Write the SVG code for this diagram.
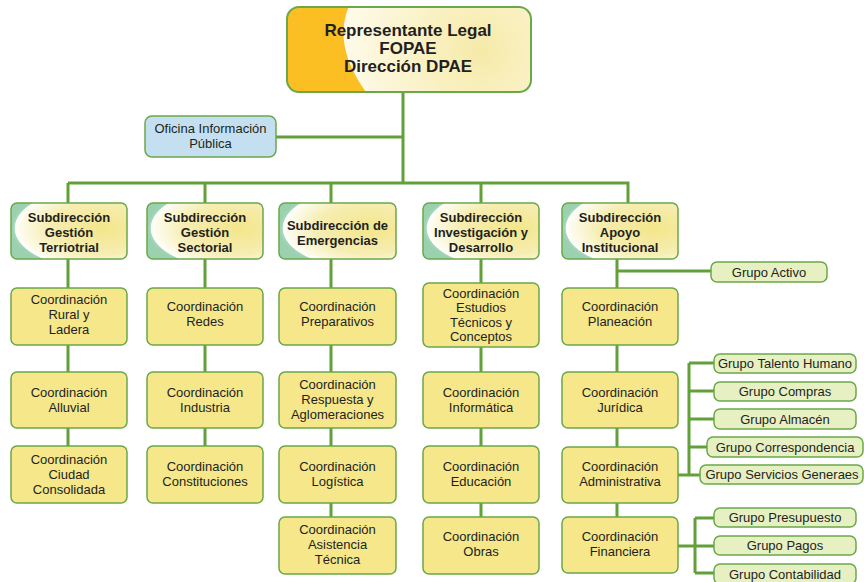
<svg xmlns="http://www.w3.org/2000/svg" width="864" height="582" viewBox="0 0 864 582">
<style>
text{font-family:"Liberation Sans",Arial,sans-serif;fill:#231f20;text-anchor:middle}
.t{font-size:17px;font-weight:bold}
.s{font-size:13px;font-weight:bold}
.c{font-size:13px}
.ln{stroke:#62a03a;stroke-width:3;fill:none}
.coord{fill:#f5e78a;stroke:#6aa84a;stroke-width:1.5}
.grp{fill:#e6f0c2;stroke:#6aa84a;stroke-width:1.5}
.sub{fill:url(#subg);stroke:#6aa84a;stroke-width:1.5}
</style>
<defs>
<radialGradient id="subg" cx="0.76" cy="0.45" r="0.76" fx="0.8" fy="0.45">
<stop offset="0" stop-color="#f3e68a"/>
<stop offset="0.6" stop-color="#f6edb2"/>
<stop offset="0.9" stop-color="#fdfbec"/>
<stop offset="0.955" stop-color="#ffffff"/>
<stop offset="0.965" stop-color="#a6d8ba"/>
<stop offset="1" stop-color="#9cd1b0"/>
</radialGradient>
<radialGradient id="topg" gradientUnits="userSpaceOnUse" cx="480" cy="50" r="150">
<stop offset="0" stop-color="#f6eaa8"/>
<stop offset="0.55" stop-color="#fbf4d0"/>
<stop offset="1" stop-color="#fefcf0"/>
</radialGradient>
<clipPath id="topclip"><rect x="287" y="7" width="244" height="85" rx="12"/></clipPath>
</defs>
<g id="connectors">
<path class="ln" d="M403 92V183M276 137H403M68 183H628V203M68 183V446M205 183V446M331 183V517M481 183V517M617 259V517M617 271H711"/>
<path class="ln" d="M678 475H689M689 363V475M689 363H714M689 391H714M689 419H714M689 447H707M689 475H700"/>
<path class="ln" d="M678 546H695M695 518V573M695 518H714M695 546H714M695 573H714"/>
</g>
<g id="top"><rect x="287" y="7" width="244" height="85" rx="12" fill="url(#topg)"/>
<path clip-path="url(#topclip)" d="M280 0H352C340 22 336 55 372 100H280Z" fill="#fbbf24"/>
<rect x="287" y="7" width="244" height="85" rx="12" fill="none" stroke="#6aa84a" stroke-width="2"/>
<text class="t" x="408" y="36">Representante Legal</text><text class="t" x="408" y="54">FOPAE</text><text class="t" x="408" y="72">Dirección DPAE</text></g>
<g id="oficina"><rect x="145" y="116" width="131" height="41" rx="7" fill="#c4dff0" stroke="#6aa84a" stroke-width="1.5"/>
<text class="c" x="210.5" y="132.5">Oficina Información</text><text class="c" x="210.5" y="147.5">Pública</text></g>
<g id="sub1"><rect class="sub" x="11" y="203" width="116" height="56" rx="6"/>
<text class="s" x="69" y="221.5">Subdirección</text><text class="s" x="69" y="236.5">Gestión</text><text class="s" x="69" y="251.5">Terriotrial</text></g>
<g id="sub2"><rect class="sub" x="147" y="203" width="116" height="56" rx="6"/>
<text class="s" x="205" y="221.5">Subdirección</text><text class="s" x="205" y="236.5">Gestión</text><text class="s" x="205" y="251.5">Sectorial</text></g>
<g id="sub3"><rect class="sub" x="279" y="203" width="117" height="56" rx="6"/>
<text class="s" x="337.5" y="229.5">Subdirección de</text><text class="s" x="337.5" y="244.5">Emergencias</text></g>
<g id="sub4"><rect class="sub" x="423" y="203" width="116" height="56" rx="6"/>
<text class="s" x="481" y="221.5">Subdirección</text><text class="s" x="481" y="236.5">Investigación y</text><text class="s" x="481" y="251.5">Desarrollo</text></g>
<g id="sub5"><rect class="sub" x="562" y="203" width="116" height="56" rx="6"/>
<text class="s" x="620" y="221.5">Subdirección</text><text class="s" x="620" y="236.5">Apoyo</text><text class="s" x="620" y="251.5">Institucional</text></g>
<g id="c11"><rect class="coord" x="11" y="288" width="116" height="57" rx="6"/>
<text class="c" x="69" y="304">Coordinación</text><text class="c" x="69" y="319">Rural y</text><text class="c" x="69" y="334">Ladera</text></g>
<g id="c12"><rect class="coord" x="11" y="372" width="116" height="56" rx="6"/>
<text class="c" x="69" y="397">Coordinación</text><text class="c" x="69" y="412">Alluvial</text></g>
<g id="c13"><rect class="coord" x="11" y="446" width="116" height="57" rx="6"/>
<text class="c" x="69" y="464">Coordinación</text><text class="c" x="69" y="479">Ciudad</text><text class="c" x="69" y="494">Consolidada</text></g>
<g id="c21"><rect class="coord" x="147" y="288" width="116" height="57" rx="6"/>
<text class="c" x="205" y="311">Coordinación</text><text class="c" x="205" y="326">Redes</text></g>
<g id="c22"><rect class="coord" x="147" y="372" width="116" height="56" rx="6"/>
<text class="c" x="205" y="397">Coordinación</text><text class="c" x="205" y="412">Industria</text></g>
<g id="c23"><rect class="coord" x="147" y="446" width="116" height="57" rx="6"/>
<text class="c" x="205" y="471">Coordinación</text><text class="c" x="205" y="486">Constituciones</text></g>
<g id="c31"><rect class="coord" x="279" y="288" width="117" height="57" rx="6"/>
<text class="c" x="337.5" y="311">Coordinación</text><text class="c" x="337.5" y="326">Preparativos</text></g>
<g id="c32"><rect class="coord" x="279" y="372" width="117" height="56" rx="6"/>
<text class="c" x="337.5" y="389">Coordinación</text><text class="c" x="337.5" y="404">Respuesta y</text><text class="c" x="337.5" y="419">Aglomeraciones</text></g>
<g id="c33"><rect class="coord" x="279" y="446" width="117" height="57" rx="6"/>
<text class="c" x="337.5" y="471">Coordinación</text><text class="c" x="337.5" y="486">Logística</text></g>
<g id="c34"><rect class="coord" x="279" y="517" width="117" height="57" rx="6"/>
<text class="c" x="337.5" y="534">Coordinación</text><text class="c" x="337.5" y="549">Asistencia</text><text class="c" x="337.5" y="564">Técnica</text></g>
<g id="c41"><rect class="coord" x="423" y="283" width="116" height="64" rx="6"/>
<text class="c" x="481" y="297.5">Coordinación</text><text class="c" x="481" y="312">Estudios</text><text class="c" x="481" y="326.5">Técnicos y</text><text class="c" x="481" y="341">Conceptos</text></g>
<g id="c42"><rect class="coord" x="423" y="372" width="116" height="56" rx="6"/>
<text class="c" x="481" y="397">Coordinación</text><text class="c" x="481" y="412">Informática</text></g>
<g id="c43"><rect class="coord" x="423" y="446" width="116" height="57" rx="6"/>
<text class="c" x="481" y="471">Coordinación</text><text class="c" x="481" y="486">Educación</text></g>
<g id="c44"><rect class="coord" x="423" y="517" width="116" height="57" rx="6"/>
<text class="c" x="481" y="541">Coordinación</text><text class="c" x="481" y="556">Obras</text></g>
<g id="c51"><rect class="coord" x="562" y="288" width="116" height="57" rx="6"/>
<text class="c" x="620" y="311">Coordinación</text><text class="c" x="620" y="326">Planeación</text></g>
<g id="c52"><rect class="coord" x="562" y="372" width="116" height="56" rx="6"/>
<text class="c" x="620" y="397">Coordinación</text><text class="c" x="620" y="412">Jurídica</text></g>
<g id="c53"><rect class="coord" x="562" y="447" width="116" height="56" rx="6"/>
<text class="c" x="620" y="471">Coordinación</text><text class="c" x="620" y="486">Administrativa</text></g>
<g id="c54"><rect class="coord" x="562" y="517" width="116" height="56" rx="6"/>
<text class="c" x="620" y="541">Coordinación</text><text class="c" x="620" y="556">Financiera</text></g>
<g id="g-activo"><rect class="grp" x="711" y="262" width="116" height="20" rx="6"/><text class="c" x="769" y="276.5">Grupo Activo</text></g>
<g id="g-talento"><rect class="grp" x="714" y="354" width="142" height="19" rx="6"/><text class="c" x="785" y="368">Grupo Talento Humano</text></g>
<g id="g-compras"><rect class="grp" x="714" y="382" width="142" height="19" rx="6"/><text class="c" x="785" y="396">Grupo Compras</text></g>
<g id="g-almacen"><rect class="grp" x="714" y="409" width="142" height="20" rx="6"/><text class="c" x="785" y="423.5">Grupo Almacén</text></g>
<g id="g-corresp"><rect class="grp" x="707" y="437" width="156" height="20" rx="6"/><text class="c" x="785" y="451.5">Grupo Correspondencia</text></g>
<g id="g-servicios"><rect class="grp" x="700" y="465" width="163" height="19" rx="6"/><text class="c" x="782" y="479">Grupo Servicios Generaes</text></g>
<g id="g-presup"><rect class="grp" x="714" y="508" width="142" height="19" rx="6"/><text class="c" x="785" y="522">Grupo Presupuesto</text></g>
<g id="g-pagos"><rect class="grp" x="714" y="536" width="142" height="19" rx="6"/><text class="c" x="785" y="550">Grupo Pagos</text></g>
<g id="g-conta"><rect class="grp" x="714" y="564" width="142" height="20" rx="6"/><text class="c" x="785" y="578.5">Grupo Contabilidad</text></g>
</svg>
